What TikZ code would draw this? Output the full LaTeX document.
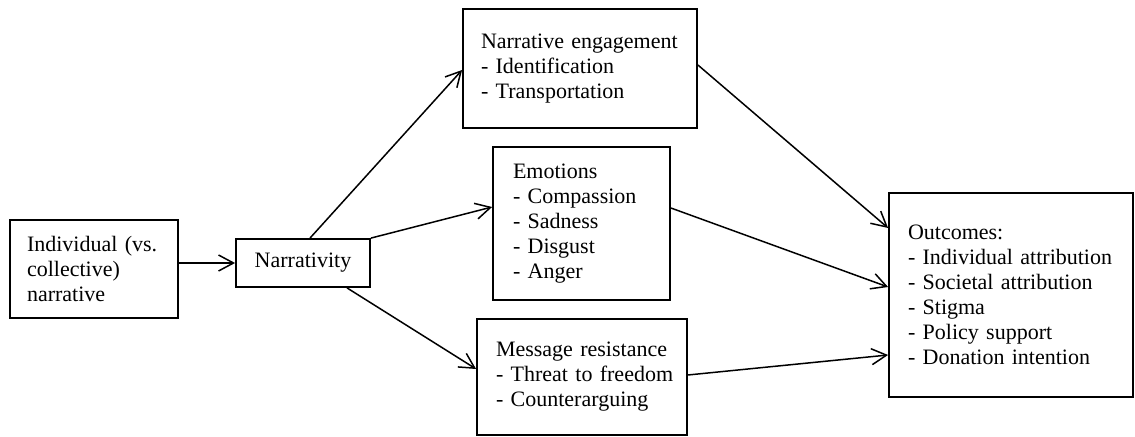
\documentclass[tikz,border=0pt]{standalone}
\usepackage{fontspec}
\setmainfont{Liberation Serif}
\usetikzlibrary{arrows.meta}
\begin{document}
\begin{tikzpicture}[x=0.5pt,y=-0.5pt,
  box/.style={draw, line width=0.9pt, align=left, inner xsep=0pt, inner ysep=0pt,
    font=\fontsize{11}{12.5}\selectfont},
  conn/.style={line width=0.75pt, -{Straight Barb[length=7.5pt,width=8pt,line width=0.75pt]}}]
\useasboundingbox (0,0) rectangle (1135,437);
\node[box, minimum width=84pt, minimum height=49pt, text width=67pt] (I) at (94,269)
  {\mbox{Individual (vs.}\\\mbox{collective)}\\\mbox{narrative}};
\node[box, align=center, minimum width=67pt, minimum height=24pt] (N) at (303,263) {Narrativity};
\node[box, minimum width=117pt, minimum height=59.5pt, text width=99pt] (NE) at (580,68.5)
  {\mbox{Narrative engagement}\\\mbox{- Identification}\\\mbox{- Transportation}};
\node[box, minimum width=88.5pt, minimum height=76.5pt, text width=68.5pt] (E) at (581.5,223.5)
  {\mbox{Emotions}\\\mbox{- Compassion}\\\mbox{- Sadness}\\\mbox{- Disgust}\\\mbox{- Anger}};
\node[box, minimum width=105pt, minimum height=58pt, text width=86pt] (MR) at (582,377)
  {\mbox{Message resistance}\\\mbox{- Threat to freedom}\\\mbox{- Counterarguing}};
\node[box, minimum width=122pt, minimum height=102pt, text width=103pt] (O) at (1011,295)
  {\mbox{Outcomes:}\\\mbox{- Individual attribution}\\\mbox{- Societal attribution}\\\mbox{- Stigma}\\\mbox{- Policy support}\\\mbox{- Donation intention}};
\draw[conn] (I.east |- N.west) -- (N.west);
\draw[conn] ([xshift=3.5pt]N.north) -- ([yshift=-0.75pt]NE.west);
\draw[conn] (N.north east) -- ([yshift=8.25pt]E.west);
\draw[conn] ([xshift=22pt]N.south) -- ([yshift=4pt]MR.west);
\draw[conn] ([yshift=1.75pt]NE.east) -- ([yshift=33.5pt]O.west);
\draw[conn] ([yshift=7.75pt]E.east) -- ([yshift=4pt]O.west);
\draw[conn] ([yshift=1pt]MR.east) -- ([yshift=-30pt]O.west);
\end{tikzpicture}
\end{document}
